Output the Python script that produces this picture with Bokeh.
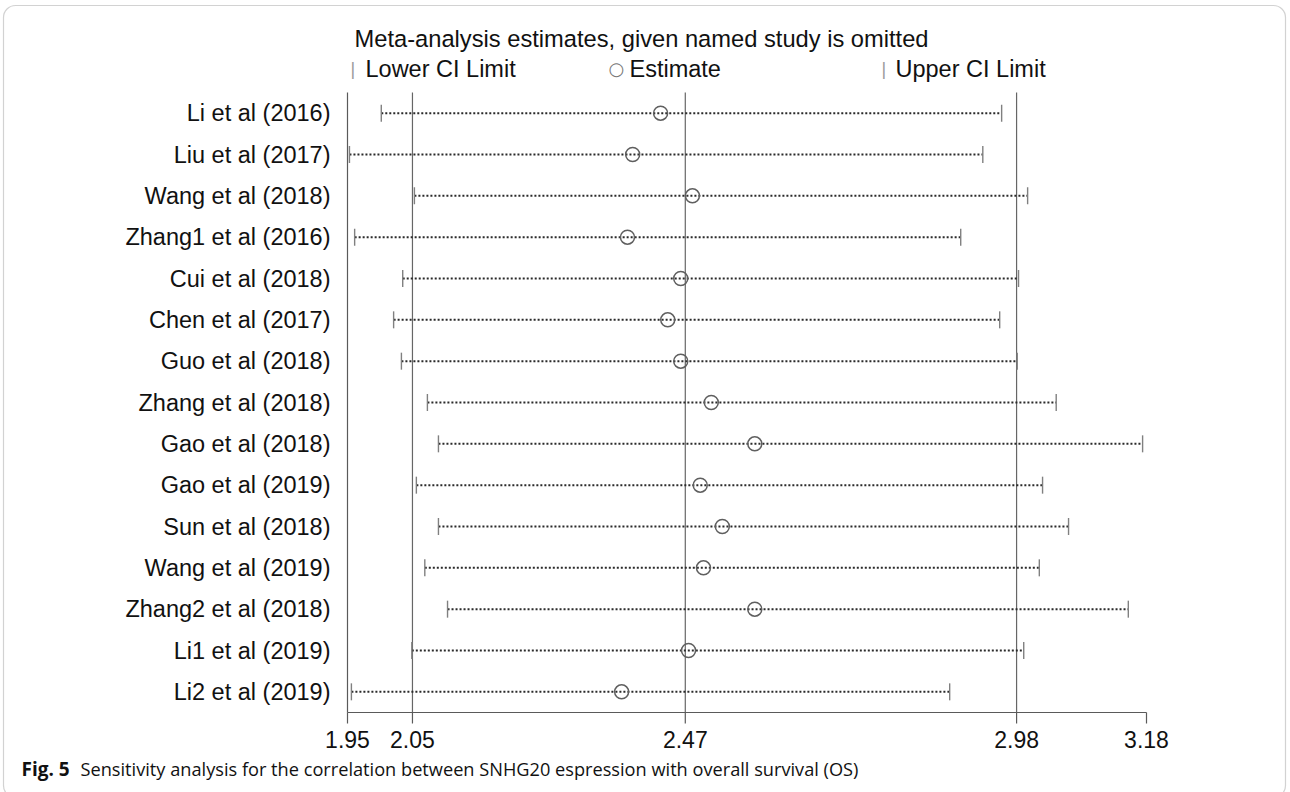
from math import pi
from bokeh.plotting import figure
from bokeh.models import Range1d, Label, BoxAnnotation
from bokeh.core.properties import value
from bokeh.embed import file_html
from bokeh.resources import INLINE

studies = ["Li et al (2016)", "Liu et al (2017)", "Wang et al (2018)", "Zhang1 et al (2016)",
           "Cui et al (2018)", "Chen et al (2017)", "Guo et al (2018)", "Zhang et al (2018)",
           "Gao et al (2018)", "Gao et al (2019)", "Sun et al (2018)", "Wang et al (2019)",
           "Zhang2 et al (2018)", "Li1 et al (2019)", "Li2 et al (2019)"]
lower = [2.002, 1.953, 2.053, 1.961, 2.035, 2.021, 2.033, 2.073, 2.090, 2.056, 2.090, 2.069, 2.104, 2.049, 1.956]
estimate = [2.432, 2.389, 2.481, 2.381, 2.463, 2.443, 2.463, 2.510, 2.577, 2.493, 2.527, 2.498, 2.577, 2.475, 2.372]
upper = [2.957, 2.928, 2.997, 2.894, 2.983, 2.954, 2.981, 3.041, 3.174, 3.020, 3.060, 3.015, 3.152, 2.991, 2.877]
x_ticks = [1.95, 2.05, 2.47, 2.98, 3.18]
x_tick_labels = ["1.95", "2.05", "2.47", "2.98", "3.18"]
ref_lines = [2.05, 2.47, 2.98]
rows = list(range(1, len(studies) + 1))

FONT = "Liberation Sans"
W, H = 1290, 792
# plot-area edges in canvas pixels (from top-left)
FL, FR, FT, FB = 347, 1146, 92, 712

# scales: the whole canvas is the frame, so text outside the plot area is not clipped
xmin, xmax = x_ticks[0], x_ticks[-1]
ytop, ybot = rows[0] - 0.5, rows[-1] + 0.5
pxx = (FR - FL) / (xmax - xmin)
pxy = (FB - FT) / (ybot - ytop)
x_range = Range1d(xmin - FL / pxx, xmax + (W - FR) / pxx)
y_range = Range1d(ybot + (H - FB) / pxy, ytop - FT / pxy)

p = figure(width=W, height=H, x_range=x_range, y_range=y_range,
           output_backend="svg", toolbar_location=None,
           x_axis_location=None, y_axis_location=None,
           min_border=0)
p.outline_line_color = None
p.grid.visible = False
p.background_fill_color = "white"
p.border_fill_color = "white"

AXC = "#5a5a5a"
# reference lines
p.segment(x0=ref_lines, x1=ref_lines, y0=[ytop] * len(ref_lines), y1=[ybot] * len(ref_lines),
          line_color="#666666", line_width=1.2)
# axes (drawn from the scales)
p.line(x=[xmin, xmin], y=[ytop, ybot], line_color=AXC, line_width=1.2)
p.line(x=[xmin, xmax], y=[ybot, ybot], line_color=AXC, line_width=1.2)
tick_len = 11 / pxy
p.segment(x0=x_ticks, x1=x_ticks, y0=[ybot] * len(x_ticks), y1=[ybot + tick_len] * len(x_ticks),
          line_color=AXC, line_width=1.2)
p.text(x=x_ticks, y=[ybot] * len(x_ticks), text=x_tick_labels, y_offset=27,
       text_align="center", text_baseline="middle", text_font=value(FONT),
       text_font_size=value("23px"), text_color="#111111")
p.text(x=[xmin] * len(studies), y=rows, text=studies, x_offset=-17,
       text_align="right", text_baseline="middle", text_font=value(FONT),
       text_font_size=value("23.5px"), text_color="#111111")

# CI lines, limits and estimates
p.segment(x0=lower, y0=rows, x1=upper, y1=rows, line_color="#2a2a2a",
          line_width=2, line_dash="2 2")
p.scatter(lower, rows, marker="dash", angle=pi / 2, size=17, line_color="#808080", line_width=1.4)
p.scatter(upper, rows, marker="dash", angle=pi / 2, size=17, line_color="#808080", line_width=1.4)
p.scatter(estimate, rows, marker="circle", size=14, fill_color=None, line_color="#5f5f5f", line_width=1.5)

def lab(text, x, y, size="23.5px", font=FONT, style="normal", color="#111111"):
    # x, y given as canvas pixels from top-left
    p.add_layout(Label(x=x, y=H - y, x_units="screen", y_units="screen", text=text,
                       text_font=font, text_font_size=size, text_font_style=style,
                       text_color=color, text_baseline="middle", text_align="left"))

lab("Meta-analysis estimates, given named study is omitted", 354, 38, size="23.7px")
lab("|", 350, 68, color="#9a9a9a", size="18px")
lab("Lower CI Limit", 365, 68)
lab("\u25cb", 608, 68, font="DejaVu Sans", size="18px", color="#777777")
lab("Estimate", 629, 68)
lab("|", 881, 68, color="#9a9a9a", size="18px")
lab("Upper CI Limit", 895, 68)
lab("Fig. 5", 21, 768, size="19px", font="Open Sans", style="bold")
lab("Sensitivity analysis for the correlation between SNHG20 espression with overall survival (OS)",
    80, 768, size="18.2px", font="Open Sans")

p.add_layout(BoxAnnotation(left=3, right=1285, top=H - 5, bottom=H - 797,
                           left_units="screen", right_units="screen",
                           top_units="screen", bottom_units="screen",
                           fill_color=None, line_color="#6a6a6a", line_width=1.2,
                           border_radius=12))

open("out.html", "w").write(file_html(p, INLINE))
